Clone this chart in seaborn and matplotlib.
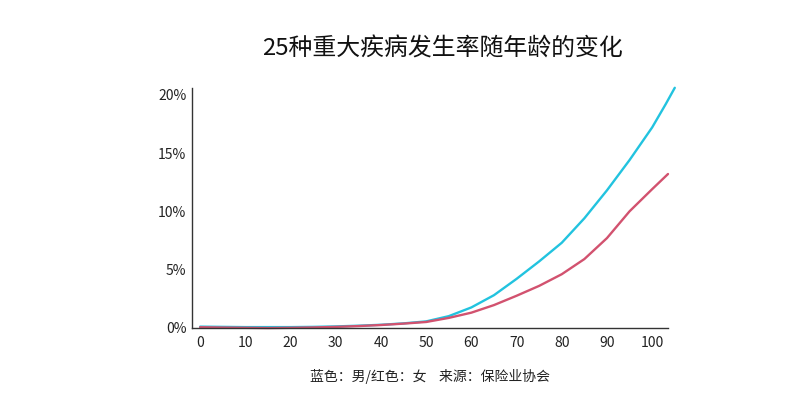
import numpy as np
import pandas as pd
import matplotlib
matplotlib.use("Agg")
import matplotlib.pyplot as plt
import seaborn as sns

# Data, incidence in %
AGE_MALE = [0, 5, 10, 15, 20, 25, 30, 35, 40, 45, 50, 55, 60, 65, 70, 75, 80, 85, 90, 95, 100, 103, 105]
MALE = [0.1, 0.08, 0.06, 0.06, 0.06, 0.08, 0.12, 0.18, 0.26, 0.38, 0.55, 1.0, 1.75, 2.8, 4.2, 5.7, 7.3, 9.4, 11.8, 14.4, 17.2, 19.2, 20.6]
AGE_FEMALE = [0, 5, 10, 15, 20, 25, 30, 35, 40, 45, 50, 55, 60, 65, 70, 75, 80, 85, 90, 95, 100, 103.5]
FEMALE = [0.05, 0.02, 0.0, -0.02, 0.0, 0.03, 0.08, 0.15, 0.24, 0.36, 0.5, 0.85, 1.3, 1.95, 2.75, 3.6, 4.6, 5.9, 7.7, 10.0, 11.9, 13.2]

X_TICKS = [0, 10, 20, 30, 40, 50, 60, 70, 80, 90, 100]
Y_TICKS = [0, 5, 10, 15, 20]
Y_TICK_LABELS = ["0%", "5%", "10%", "15%", "20%"]

TITLE = "25种重大疾病发生率随年龄的变化"
NOTE = "蓝色：男/红色：女    来源：保险业协会"

BLUE = "#22c3df"
RED = "#d2526f"

sns.set_theme(style="white")
plt.rcParams["font.family"] = ["Noto Sans CJK SC", "DejaVu Sans"]

df = pd.concat([
    pd.DataFrame({"age": AGE_MALE, "rate": MALE, "sex": "男"}),
    pd.DataFrame({"age": AGE_FEMALE, "rate": FEMALE, "sex": "女"}),
])

fig = plt.figure(figsize=(8, 4.16), dpi=100)
ax = fig.add_axes([0.24, 0.212, 0.595, 0.577])

sns.lineplot(data=df, x="age", y="rate", hue="sex", hue_order=["男", "女"],
             palette={"男": BLUE, "女": RED}, linewidth=1.7, legend=False, ax=ax)
for line in ax.lines:
    line.set_clip_on(False)

ax.set_xlim(-1.8, 103.5)
ax.set_ylim(0, 20.6)
ax.set_xticks(X_TICKS)
ax.set_yticks(Y_TICKS)
ax.set_yticklabels(Y_TICK_LABELS)
ax.tick_params(axis="both", length=0, labelsize=10, colors="#222222")
ax.tick_params(axis="y", pad=4)
ax.tick_params(axis="x", pad=6)
ax.set_xlabel("")
ax.set_ylabel("")
for side in ["top", "right"]:
    ax.spines[side].set_visible(False)
for side in ["left", "bottom"]:
    ax.spines[side].set_color("#333333")
    ax.spines[side].set_linewidth(1)

fig.text(0.5525, 0.882, TITLE, ha="center", va="center", fontsize=17.2, color="#111111")
fig.text(0.5375, 0.094, NOTE, ha="center", va="center", fontsize=10, color="#222222")

fig.savefig("out.png", dpi=100)
plt.close(fig)
